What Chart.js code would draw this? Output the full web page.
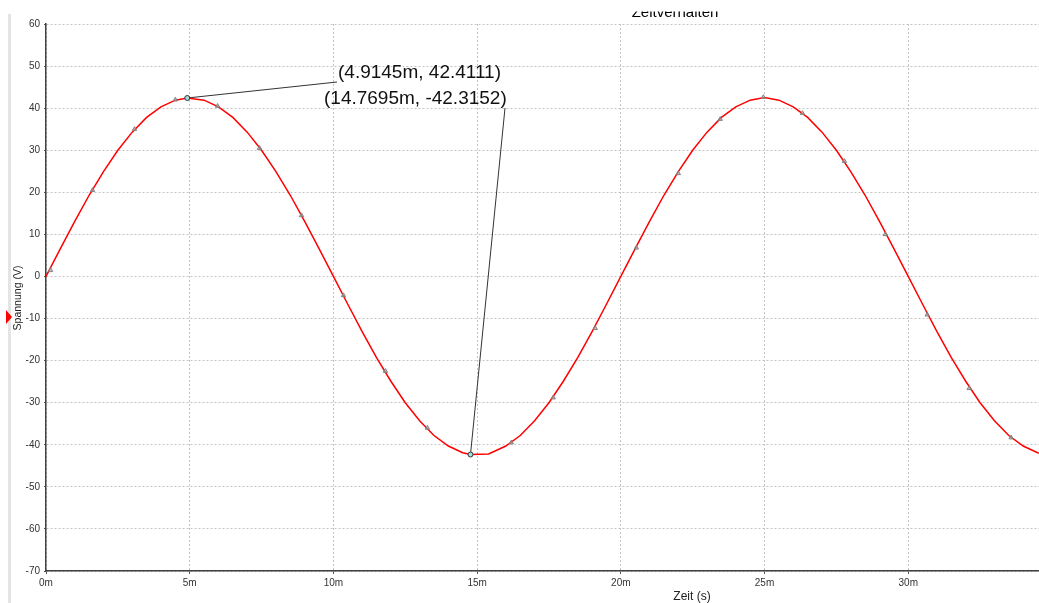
<!DOCTYPE html>
<html lang="de">
<head>
    <meta charset="UTF-8">
    <title>Zeitverhalten</title>
    <script src="https://cdn.jsdelivr.net/npm/chart.js"></script>
    <style>
        body { margin: 0; background: #fff; }
        canvas { display: block; }
    </style>
</head>
<body>
    <canvas id="zeitChart" width="1039" height="603"></canvas>

    <script>
        // Messkurve (Zeit in ms, Spannung in V)
        const zeit = [0, 0.5, 1, 1.5, 2, 2.5, 3, 3.5, 4, 4.5,
            4.9145, 5.5, 6, 6.5, 7, 7.5, 8, 8.5, 9, 9.5,
            10, 10.5, 11, 11.5, 12, 12.5, 13, 13.5, 14, 14.5,
            14.7695, 15.4, 16, 16.5, 17, 17.5, 18, 18.5, 19, 19.5,
            20, 20.5, 21, 21.5, 22, 22.5, 23, 23.5, 24, 24.5,
            25, 25.5, 26, 26.5, 27, 27.5, 28, 28.5, 29, 29.5,
            30, 30.5, 31, 31.5, 32, 32.5, 33, 33.5, 34, 34.5, 35];
        const spannung = [0, 6.6, 13.1, 19.3, 24.9, 30.0, 34.3, 37.8, 40.3, 41.9,
            42.4, 41.9, 40.3, 37.8, 34.3, 30.0, 24.9, 19.3, 13.1, 6.6,
            0, -6.6, -13.1, -19.3, -24.9, -30.0, -34.3, -37.8, -40.3, -41.9,
            -42.3, -42.2, -40.3, -37.8, -34.3, -30.0, -24.9, -19.3, -13.1, -6.6,
            0, 6.6, 13.1, 19.3, 24.9, 30.0, 34.3, 37.8, 40.3, 41.9,
            42.5, 41.9, 40.3, 37.8, 34.3, 30.0, 24.9, 19.3, 13.1, 6.6,
            0, -6.6, -13.1, -19.3, -24.9, -30.0, -34.3, -37.8, -40.3, -41.9, -42.3];

        // Abtastpunkte (Dreiecke)
        const markerZeit = [0.16, 1.62, 3.08, 4.5, 5.97, 7.43, 8.89, 10.35, 11.81, 13.27,
            16.19, 17.65, 19.11, 20.54, 22.0, 23.46, 24.96, 26.32, 27.78, 29.2,
            30.66, 32.12, 33.58];
        const markerSpannung = [1.5, 20.5, 35, 42, 40.5, 30.5, 14.5, -4.5, -22.5, -36,
            -39.5, -28.8, -12.3, 6.8, 24.5, 37.4, 42.6, 38.8, 27.4, 10.0,
            -9.1, -26.6, -38.3];

        // Cursor
        const cursorZeit = [4.9145, 14.7695];
        const cursorSpannung = [42.4111, -42.3152];
        const cursorText = ['(4.9145m, 42.4111)', '(14.7695m, -42.3152)'];

        const xMin = 0, xMax = 34.55, xStep = 5;
        const yMin = -70, yMax = 60, yStep = 10;

        const toPoints = (xs, ys) => xs.map((x, i) => ({ x: x, y: ys[i] }));

        // Rahmen, Titel, Cursor-Beschriftungen
        const deko = {
            id: 'deko',
            beforeDraw(chart) {
                const ctx = chart.ctx;
                ctx.save();
                ctx.fillStyle = '#ffffff';
                ctx.fillRect(0, 0, chart.width, chart.height);
                ctx.fillStyle = '#e4e4e4';
                ctx.fillRect(8, 14, 3, chart.height - 14);
                ctx.fillStyle = '#ff0000';
                ctx.beginPath();
                ctx.moveTo(6, 310);
                ctx.lineTo(12, 317);
                ctx.lineTo(6, 324);
                ctx.closePath();
                ctx.fill();

                // Titel, oben abgeschnitten
                ctx.save();
                ctx.beginPath();
                ctx.rect(0, 11.5, chart.width, 20);
                ctx.clip();
                ctx.fillStyle = '#000';
                ctx.font = '15px "Liberation Sans", Arial, sans-serif';
                ctx.textAlign = 'center';
                ctx.textBaseline = 'alphabetic';
                ctx.fillText('Zeitverhalten', 675, 17);
                ctx.restore();

                // Achsentitel
                ctx.fillStyle = '#222';
                ctx.font = '12px "Liberation Sans", Arial, sans-serif';
                ctx.textAlign = 'center';
                ctx.textBaseline = 'middle';
                ctx.fillText('Zeit (s)', 692, 597);
                ctx.save();
                ctx.translate(18, 298);
                ctx.rotate(-Math.PI / 2);
                ctx.font = '10.5px "Liberation Sans", Arial, sans-serif';
                ctx.fillText('Spannung (V)', 0, 0);
                ctx.restore();
                ctx.restore();
            },
            beforeDatasetsDraw(chart) {
                const ctx = chart.ctx;
                const xs = chart.scales.x, ys = chart.scales.y;
                const anker = [{ x: 337, y: 82 }, { x: 505, y: 108 }];
                ctx.save();
                ctx.strokeStyle = '#333';
                ctx.lineWidth = 1;
                cursorZeit.forEach((t, i) => {
                    ctx.beginPath();
                    ctx.moveTo(xs.getPixelForValue(t), ys.getPixelForValue(cursorSpannung[i]));
                    ctx.lineTo(anker[i].x, anker[i].y);
                    ctx.stroke();
                });
                ctx.restore();
            },
            afterDatasetsDraw(chart) {
                const ctx = chart.ctx;
                const pos = [{ x: 338, y: 73 }, { x: 324, y: 99 }];
                ctx.save();
                ctx.fillStyle = '#111';
                ctx.font = '19px "Liberation Sans", Arial, sans-serif';
                ctx.textAlign = 'left';
                ctx.textBaseline = 'middle';
                cursorText.forEach((txt, i) => ctx.fillText(txt, pos[i].x, pos[i].y));
                ctx.restore();
            }
        };

        const tickFont = { family: '"Liberation Sans", Arial, sans-serif', size: 10 };

        new Chart(document.getElementById('zeitChart').getContext('2d'), {
            type: 'scatter',
            data: {
                datasets: [
                    {
                        label: 'Spannung',
                        data: toPoints(zeit, spannung),
                        showLine: true,
                        borderColor: '#ff0000',
                        borderWidth: 1.5,
                        pointRadius: 0,
                        tension: 0,
                        order: 3
                    },
                    {
                        label: 'Abtastpunkte',
                        data: toPoints(markerZeit, markerSpannung),
                        pointStyle: 'triangle',
                        pointRadius: 2.5,
                        borderColor: '#808080',
                        backgroundColor: 'rgba(170,170,170,0.6)',
                        borderWidth: 1,
                        order: 2
                    },
                    {
                        label: 'Cursor',
                        data: toPoints(cursorZeit, cursorSpannung),
                        pointStyle: 'circle',
                        pointRadius: 2.5,
                        borderColor: '#333',
                        backgroundColor: '#9fdede',
                        borderWidth: 1,
                        order: 1
                    }
                ]
            },
            options: {
                responsive: false,
                animation: false,
                layout: { autoPadding: false, padding: { top: 24, left: 0, right: 0, bottom: 0 } },
                plugins: {
                    legend: { display: false },
                    tooltip: { enabled: false }
                },
                scales: {
                    x: {
                        type: 'linear',
                        min: xMin,
                        max: xMax,
                        afterFit: s => { s.height = 32; s.paddingLeft = 0; s.paddingRight = 0; },
                        ticks: {
                            stepSize: xStep,
                            includeBounds: false,
                            maxRotation: 0,
                            padding: 3,
                            color: '#333',
                            font: tickFont,
                            callback: v => v + 'm'
                        },
                        grid: {
                            color: '#c4c4c4',
                            lineWidth: 1,
                            tickLength: 3,
                            tickColor: '#555'
                        },
                        border: { color: '#404040', width: 1.5, dash: [2, 2] }
                    },
                    y: {
                        min: yMin,
                        max: yMax,
                        afterFit: s => { s.width = 46; },
                        ticks: {
                            stepSize: yStep,
                            padding: 4,
                            color: '#333',
                            font: tickFont
                        },
                        grid: {
                            color: '#c4c4c4',
                            lineWidth: 1,
                            tickLength: 2,
                            tickColor: '#555'
                        },
                        border: { color: '#404040', width: 1.5, dash: [2, 2] }
                    }
                }
            },
            plugins: [deko]
        });
    </script>
</body>
</html>
